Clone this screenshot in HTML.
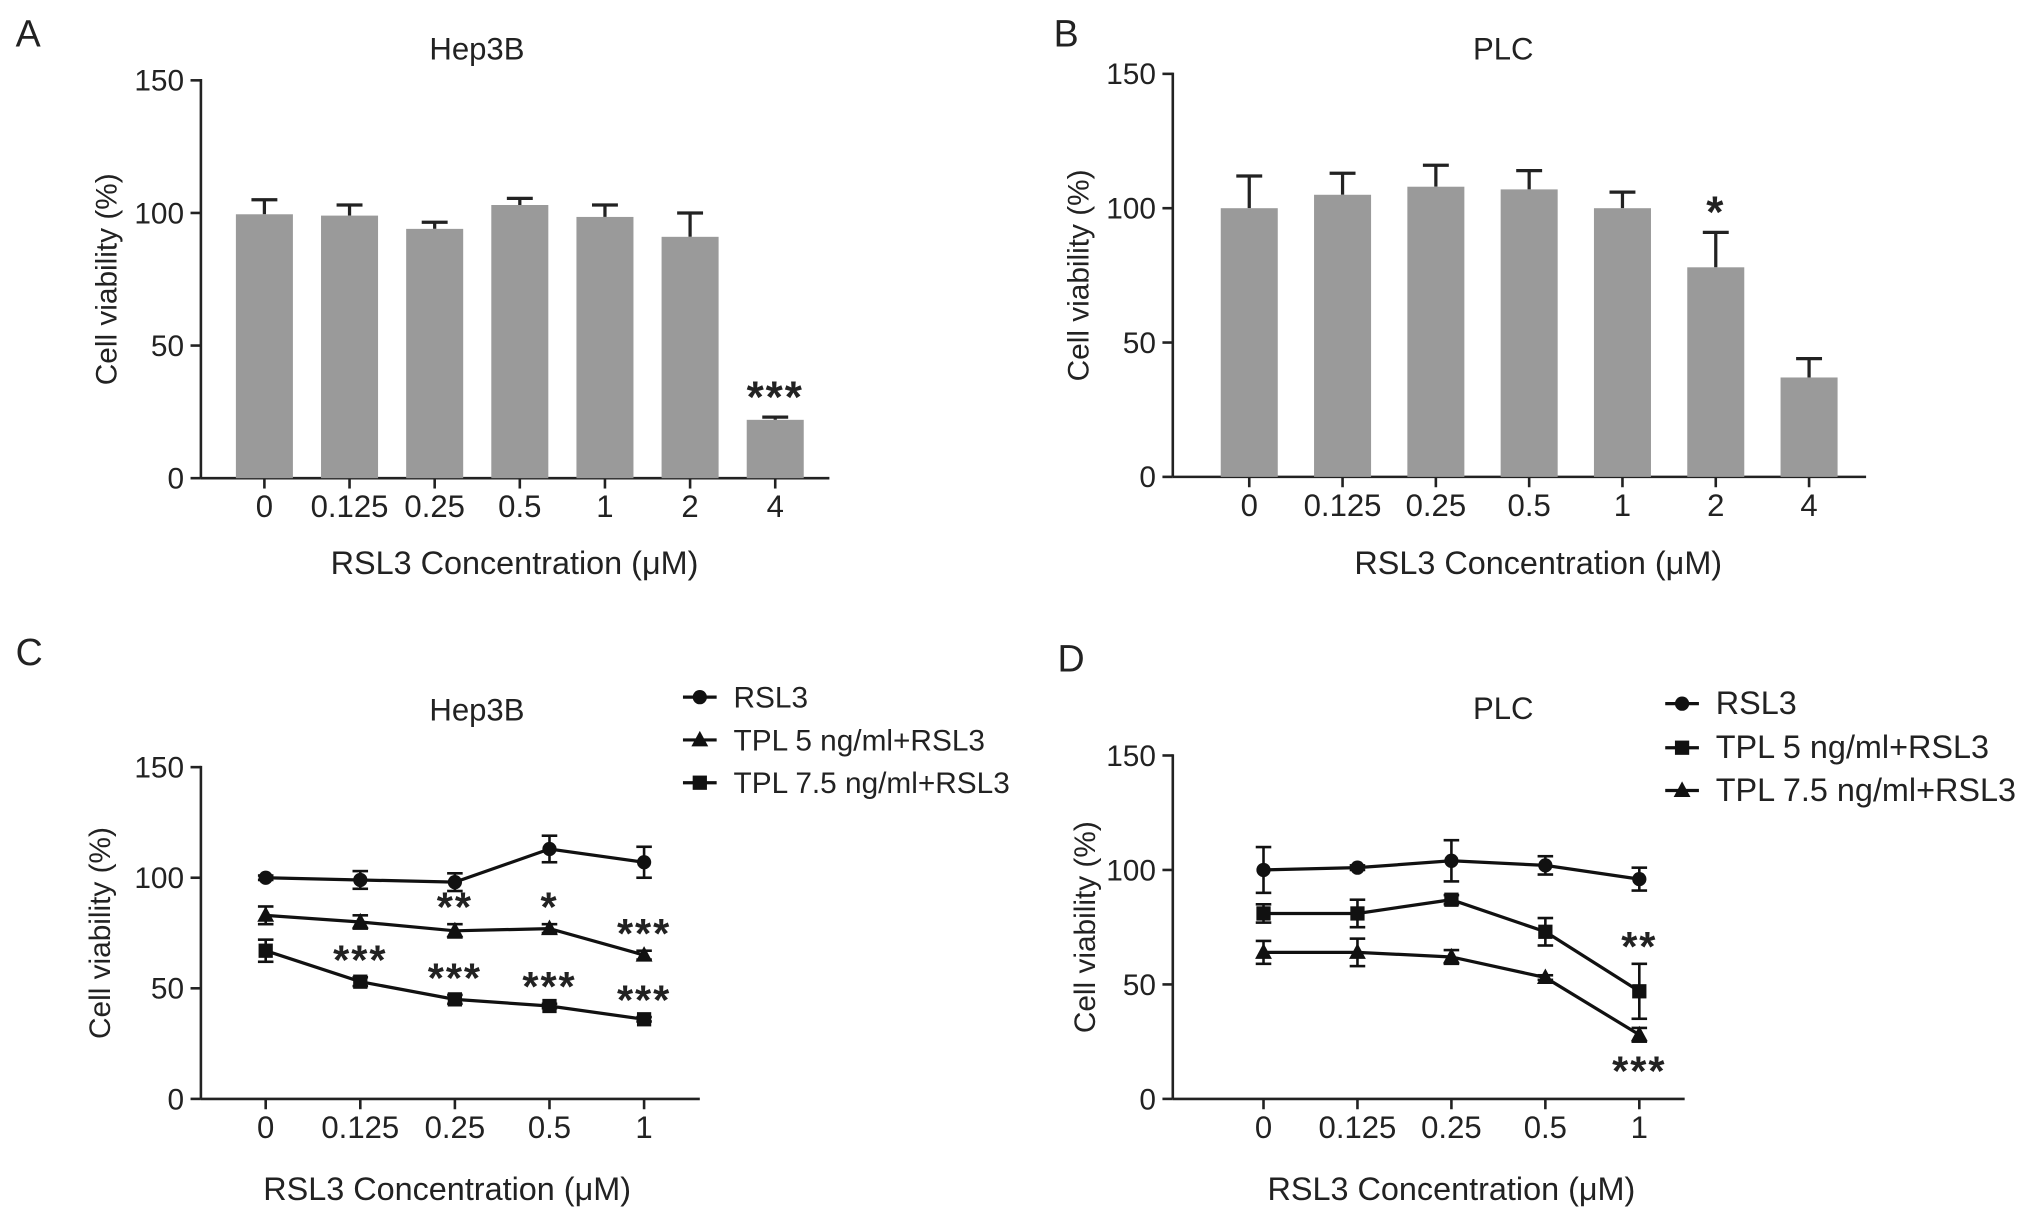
<!DOCTYPE html>
<html><head><meta charset="utf-8"><style>
html,body{margin:0;padding:0;background:#fff;}
svg{display:block;}
text{font-family:"Liberation Sans",Arial,sans-serif;fill:#222;}
</style></head><body>
<svg id="fig" width="2032" height="1222" viewBox="0 0 1568 943" xmlns="http://www.w3.org/2000/svg"></svg>
<script>
const catsA=["0","0.125","0.25","0.5","1","2","4"];
const valsA=[99.5,99,94,103,98.5,91,22];
const errA=[5.5,4,2.5,2.5,4.5,9,1];
const starsA=["","","","","","","***"];
const valsB=[100,105,108,107,100,78,37];
const errB=[12,8,8,7,6,13,7];
const starsB=["","","","","","*",""];
const catsC=["0","0.125","0.25","0.5","1"];
const cRSL3=[100,99,98,113,107];const cRSL3e=[1,4,4,6,7];
const cT5=[83,80,76,77,65];const cT5e=[4,3,3,2,2];
const cT75=[67,53,45,42,36];const cT75e=[5,2,2,1,1];
const cStarT5=["","","**","*","***"];
const cStarT75=["","***","***","***","***"];
const dRSL3=[100,101,104,102,96];const dRSL3e=[10,1,9,4,5];
const dT5=[81,81,87,73,47];const dT5e=[4,6,2,6,12];
const dT75=[64,64,62,53,28];const dT75e=[5,6,3,1,3];
const yTicks=[0,50,100,150];

const svg=document.getElementById('fig');
const NS="http://www.w3.org/2000/svg";
function el(t,a,name,p){const e=document.createElementNS(NS,t);for(const k in a)e.setAttribute(k,a[k]);


(p||svg).appendChild(e);return e;}
function txt(x,y,s,size,name,anchor,extra){const e=el('text',Object.assign({x:x,y:y,'font-size':size,'text-anchor':anchor||'middle'},extra||{}),name);e.textContent=s;return e;}
const STAR={'font-weight':'bold','letter-spacing':'1.5'};
function axes(P,cats,xs,name){
 const g=el('g',{},name+'-axes');
 el('line',{x1:P.x0,y1:P.y0,x2:P.x0,y2:P.y1-1,stroke:'#222','stroke-width':2},'y-axis',g);
 el('line',{x1:P.x0,y1:P.y0,x2:P.xe,y2:P.y0,stroke:'#222','stroke-width':2},'x-axis',g);
 yTicks.forEach(v=>{const y=P.y(v);el('line',{x1:P.x0-8,y1:y,x2:P.x0,y2:y,stroke:'#222','stroke-width':2},'y-tick',g);
  txt(P.x0-13,y+8,String(v),23,'y-tick-label','end');});
 cats.forEach((c,i)=>{el('line',{x1:xs[i],y1:P.y0,x2:xs[i],y2:P.y0+8,stroke:'#222','stroke-width':2},'x-tick',g);
  txt(xs[i],P.y0+30,c,24,'x-tick-label');});
 txt(P.ylx,(P.y0+P.y1)/2,'Cell viability (%)',23,'y-axis-title','middle',{transform:`rotate(-90 ${P.ylx} ${(P.y0+P.y1)/2})`});
 txt(P.xlx,P.xly,'RSL3 Concentration (\u03bcM)',25,'x-axis-title');
 txt(P.tx,P.ty,P.title,24,'chart-title');
 txt(P.lx,P.ly,P.letter,29,'panel-letter','start');
}
function mkP(o){o.y=v=>o.y0-(o.y0-o.y1)*v/150;return o;}
function bars(P,cats,xs,vals,errs,stars,name){
 axes(P,cats,xs,name);
 vals.forEach((v,i)=>{const x=xs[i],w=44;
  el('line',{x1:x,y1:P.y(v),x2:x,y2:P.y(v+errs[i]),stroke:'#222','stroke-width':2.5},'error-bar',svg);
  el('line',{x1:x-10,y1:P.y(v+errs[i]),x2:x+10,y2:P.y(v+errs[i]),stroke:'#222','stroke-width':2.5},'error-cap',svg);
  el('rect',{x:x-w/2,y:P.y(v),width:w,height:P.y0-P.y(v),fill:'#9a9a9a'},'bar-'+cats[i],svg);
  if(stars[i])txt(x,P.y(v+errs[i])-4,stars[i],34,'significance','middle',STAR);
 });
}
function marker(x,y,shape,name){
 if(shape==='c')el('circle',{cx:x,cy:y,r:5.5,fill:'#111'},name);
 else if(shape==='s')el('rect',{x:x-5.5,y:y-5.5,width:11,height:11,fill:'#111'},name);
 else el('polygon',{points:`${x},${y-7} ${x-6.5},${y+5} ${x+6.5},${y+5}`,fill:'#111'},name);
}
function series(P,xs,vals,errs,shape,name){
 el('polyline',{points:vals.map((v,i)=>xs[i]+','+P.y(v)).join(' '),fill:'none',stroke:'#111','stroke-width':2.5},name+'-line');
 vals.forEach((v,i)=>{const x=xs[i],a=P.y(v+errs[i]),b=P.y(v-errs[i]);
  el('line',{x1:x,y1:a,x2:x,y2:b,stroke:'#111','stroke-width':2},name+'-error',svg);
  el('line',{x1:x-6,y1:a,x2:x+6,y2:a,stroke:'#111','stroke-width':2},name+'-cap',svg);
  el('line',{x1:x-6,y1:b,x2:x+6,y2:b,stroke:'#111','stroke-width':2},name+'-cap',svg);
  marker(x,P.y(v),shape,name+'-point');});
}
function legend(x,ys,items,fs){items.forEach((it,i)=>{
 el('line',{x1:x-13,y1:ys[i],x2:x+13,y2:ys[i],stroke:'#111','stroke-width':2.5},'legend-line');
 marker(x,ys[i],it[1],'legend-marker');txt(x+26,ys[i]+8,it[0],fs,'legend-entry','start');});}

// A
const PA=mkP({x0:155,xe:640,y0:369,y1:62,ylx:90,xlx:397,xly:443,tx:368,ty:46,title:'Hep3B',lx:12,ly:36,letter:'A'});
bars(PA,catsA,catsA.map((c,i)=>204+65.7*i),valsA,errA,starsA,'panel-a');
// B
const PB=mkP({x0:905,xe:1440,y0:368,y1:57,ylx:840,xlx:1187,xly:443,tx:1160,ty:46,title:'PLC',lx:813,ly:36,letter:'B'});
bars(PB,catsA,catsA.map((c,i)=>964+72*i),valsB,errB,starsB,'panel-b');
// C
const PC=mkP({x0:155,xe:540,y0:848,y1:592,ylx:85,xlx:345,xly:926,tx:368,ty:556,title:'Hep3B',lx:12,ly:513,letter:'C'});
const xsC=catsC.map((c,i)=>205+73*i);
axes(PC,catsC,xsC,'panel-c');
series(PC,xsC,cRSL3,cRSL3e,'c','c-rsl3');series(PC,xsC,cT5,cT5e,'t','c-tpl5');series(PC,xsC,cT75,cT75e,'s','c-tpl75');
cStarT5.forEach((s,i)=>{if(s)txt(xsC[i],PC.y(cT5[i]+cT5e[i])-2,s,32,'significance','middle',STAR);});
cStarT75.forEach((s,i)=>{if(s)txt(xsC[i],PC.y(cT75[i]+cT75e[i])-2,s,32,'significance','middle',STAR);});
legend(540,[538,571,604],[['RSL3','c'],['TPL 5 ng/ml+RSL3','t'],['TPL 7.5 ng/ml+RSL3','s']],23);
// D
const PD=mkP({x0:905,xe:1300,y0:848,y1:583,ylx:845,xlx:1120,xly:926,tx:1160,ty:555,title:'PLC',lx:816,ly:518,letter:'D'});
const xsD=catsC.map((c,i)=>975+72.5*i);
axes(PD,catsC,xsD,'panel-d');
series(PD,xsD,dRSL3,dRSL3e,'c','d-rsl3');series(PD,xsD,dT5,dT5e,'s','d-tpl5');series(PD,xsD,dT75,dT75e,'t','d-tpl75');
txt(xsD[4],PD.y(dT5[4]+dT5e[4])-2,'**',32,'significance','middle',STAR);
txt(xsD[4],PD.y(dT75[4]-dT75e[4])+34,'***',32,'significance','middle',STAR);
legend(1298,[543,577,610],[['RSL3','c'],['TPL 5 ng/ml+RSL3','s'],['TPL 7.5 ng/ml+RSL3','t']],25);
</script>
</body></html>
